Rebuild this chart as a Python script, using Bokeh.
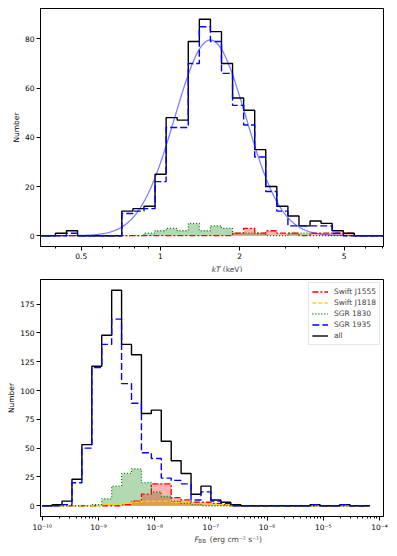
import numpy as np
from bokeh.plotting import figure
from bokeh.models import (Range1d, FixedTicker, CustomJSTickFormatter, Label,
                          Legend, LegendItem)
from bokeh.layouts import column
from bokeh.embed import file_html
from bokeh.resources import INLINE

# ---------------- data: kT histogram (top) ----------------
kt_edges = [0.3286, 0.3619, 0.3989, 0.4394, 0.4842, 0.5334, 0.5877, 0.6475,
            0.7133, 0.7860, 0.8660, 0.9541, 1.0513, 1.1584, 1.2762, 1.4061,
            1.5493, 1.7070, 1.8807, 2.0722, 2.2831, 2.5148, 2.7709, 3.0530,
            3.3636, 3.7062, 4.0832, 4.4989, 4.9568, 5.4613, 6.0170, 6.6295,
            7.3029]
kt_all = [0, 0, 1, 2, 0, 0, 0, 0, 10, 11, 12, 25, 48, 47, 79, 88,
          83, 70, 56, 51, 35, 20, 12, 8, 4, 6, 5, 2, 1, 0, 0, 0]
kt_sgr1935 = [0, 0, 0, 1, 0, 0, 0, 0, 9, 10, 11, 22, 44, 44, 70, 85,
              79, 66, 53, 45, 32, 18, 10, 4, 4, 4, 4, 1, 0, 0, 0, 0]
kt_sgr1830 = [0, 0, 0, 0, 0, 0, 0, 0, 0, 0, 1, 2, 3, 2, 5, 2,
              4, 3, 1, 1, 1, 0, 0, 1, 1, 0, 0, 0, 0, 0, 0, 0]
kt_j1555 = [0, 0, 0, 0, 0, 0, 0, 0, 0, 0, 0, 0, 0, 0, 0, 0,
            0, 0, 1, 3, 1, 2, 1, 1, 0, 1, 1, 1, 1, 0, 0, 0]
# log-normal fit to SGR 1935 kT distribution
fit_amp = 79.6
fit_log_mu = 0.19
fit_log_sigma = 0.135
kt_ticks = [0.5, 1, 2, 5]
kt_minor = [0.4, 0.6, 0.7, 0.8, 0.9, 3, 4, 6, 7]
kt_yticks = [0, 20, 40, 60, 80]

# ---------------- data: F_BB histogram (bottom) ----------------
flux_edge_exp = [-10.0, -9.8235, -9.647, -9.4705, -9.294, -9.1175, -8.941,
                 -8.7645, -8.588, -8.4115, -8.235, -8.0585, -7.882, -7.7055,
                 -7.529, -7.3525, -7.176, -6.9995, -6.823, -6.6465, -6.47,
                 -6.2935, -6.117, -5.9405, -5.764, -5.5875, -5.411, -5.2345,
                 -5.058, -4.8815, -4.705, -4.5285, -4.352, -4.1755]
fl_all = [0, 1, 4, 23, 53, 121, 148, 187, 140, 131, 80, 83, 56, 39, 28, 10,
          17, 5, 3, 1, 0, 0, 0, 0, 0, 0, 0, 1, 0, 0, 1, 0, 0]
fl_sgr1935 = [0, 0, 1, 20, 50, 120, 140, 162, 106, 89, 46, 41, 24, 22, 19, 5,
              12, 4, 2, 0, 0, 0, 0, 0, 0, 0, 0, 1, 0, 0, 1, 0, 0]
fl_sgr1830 = [0, 0, 0, 0, 0, 1, 6, 17, 28, 32, 20, 12, 8, 4, 2, 1,
              0, 0, 0, 0, 0, 0, 0, 0, 0, 0, 0, 0, 0, 0, 0, 0, 0]
fl_j1555 = [0, 0, 0, 0, 0, 0, 0, 0, 1, 4, 10, 19, 19, 7, 5, 3,
            3, 2, 1, 0, 0, 0, 0, 0, 0, 0, 0, 0, 0, 0, 0, 0, 0]
fl_j1818 = [0, 0, 0, 0, 0, 0, 1, 1, 2, 3, 4, 4, 4, 3, 3, 2,
            2, 1, 1, 0, 0, 0, 0, 0, 0, 0, 0, 0, 0, 0, 0, 0, 0]
flux_tick_exp = [-10, -9, -8, -7, -6, -5, -4]
flux_yticks = [0, 25, 50, 75, 100, 125, 150, 175]

FONT = "DejaVu Sans"
FS = "7.5px"
DASH_RED = "6 2 2 2"
DASH_YEL = "4 2"
DASH_GRN = "1 2"
DASH_BLU = "7 3"

KT_LO, KT_HI = 0.35, 7.05
KT_YLO, KT_YHI = -4.4, 92.4
FL_LO, FL_HI = 10 ** -10.03, 10 ** -3.93
FL_YLO, FL_YHI = -9.35, 196.35
W = 390


def step_xy(edges, counts):
    e = np.asarray(edges, dtype=float)
    c = np.asarray(counts, dtype=float)
    xs = np.repeat(e, 2)
    ys = np.concatenate([[0.0], np.repeat(c, 2), [0.0]])
    return xs, ys


def style(p):
    p.outline_line_color = "black"
    p.outline_line_width = 1
    p.outline_line_alpha = 1
    p.xgrid.visible = False
    p.ygrid.visible = False
    p.background_fill_color = "white"
    p.border_fill_color = "white"
    for ax in (p.xaxis[0], p.yaxis[0]):
        ax.axis_line_color = "black"
        ax.major_tick_line_color = "black"
        ax.minor_tick_line_color = "black"
        ax.major_tick_in = 0
        ax.major_tick_out = 4
        ax.minor_tick_in = 0
        ax.minor_tick_out = 2
        ax.major_label_text_font = FONT
        ax.major_label_text_font_size = FS
        ax.major_label_text_color = "black"
        ax.major_label_standoff = 2
        ax.axis_label_text_font = FONT
        ax.axis_label_text_font_size = FS
        ax.axis_label_text_font_style = "normal"
        ax.axis_label_text_color = "black"
    p.yaxis[0].minor_tick_line_color = None
    p.yaxis[0].axis_label = "Number"
    p.yaxis[0].axis_label_standoff = 1


def title_strip(h):
    s = figure(width=W, height=h, x_range=Range1d(0, W), y_range=Range1d(0, h),
               output_backend="svg", toolbar_location=None,
               x_axis_location=None, y_axis_location=None,
               min_border_left=0, min_border_right=0,
               min_border_top=0, min_border_bottom=0)
    s.outline_line_color = None
    s.xgrid.visible = False
    s.ygrid.visible = False
    s.background_fill_color = "white"
    s.border_fill_color = "white"
    return s


# ---------------- top figure ----------------
p1 = figure(width=W, height=262, x_axis_type="log",
            x_range=Range1d(KT_LO, KT_HI), y_range=Range1d(KT_YLO, KT_YHI),
            output_backend="svg", toolbar_location=None,
            min_border_left=40, min_border_right=7,
            min_border_top=8, min_border_bottom=16)
style(p1)
p1.xaxis[0].ticker = FixedTicker(ticks=kt_ticks, minor_ticks=kt_minor)
p1.xaxis[0].formatter = CustomJSTickFormatter(code="return String(tick);")
p1.yaxis[0].ticker = FixedTicker(ticks=kt_yticks)

xs, ys = step_xy(kt_edges, kt_sgr1830)
p1.patch(xs, ys, fill_color="green", fill_alpha=0.3, line_color=None)
xs, ys = step_xy(kt_edges, kt_j1555)
p1.patch(xs, ys, fill_color="red", fill_alpha=0.3, line_color=None)
xs, ys = step_xy(kt_edges, kt_j1555)
p1.line(xs, ys, line_color="red", line_width=1.3, line_dash=DASH_RED)
xs, ys = step_xy(kt_edges, kt_sgr1830)
p1.line(xs, ys, line_color="green", line_width=1.3, line_dash=DASH_GRN)
xs, ys = step_xy(kt_edges, kt_all)
p1.line(xs, ys, line_color="black", line_width=1.4)
xs, ys = step_xy(kt_edges, kt_sgr1935)
p1.line(xs, ys, line_color="blue", line_width=1.4, line_dash=DASH_BLU)

kt_fit_x = np.logspace(np.log10(KT_LO), np.log10(KT_HI), 300)
kt_fit_y = fit_amp * np.exp(-(np.log10(kt_fit_x) - fit_log_mu) ** 2
                            / (2 * fit_log_sigma ** 2))
p1.line(kt_fit_x, kt_fit_y, line_color="blue", line_alpha=0.5, line_width=1.3)

# x-axis title strip for the top panel
s1 = title_strip(10)
s1.add_layout(Label(x=204.8, y=5.5, text="kT", text_font=FONT,
                    text_font_size=FS, text_font_style="italic",
                    text_align="right", text_baseline="middle"))
s1.add_layout(Label(x=207.2, y=5.5, text="(keV)", text_font=FONT,
                    text_font_size=FS, text_align="left",
                    text_baseline="middle"))

# ---------------- bottom figure ----------------
fl_edges = [10.0 ** e for e in flux_edge_exp]
p2 = figure(width=W, height=262, x_axis_type="log",
            x_range=Range1d(FL_LO, FL_HI),
            y_range=Range1d(FL_YLO, FL_YHI),
            output_backend="svg", toolbar_location=None,
            min_border_left=40, min_border_right=7,
            min_border_top=7, min_border_bottom=17)
style(p2)
fl_ticks = [10.0 ** e for e in flux_tick_exp]
fl_minor = [m * 10.0 ** e for e in range(-11, -3) for m in range(2, 10)
            if FL_LO < m * 10.0 ** e < FL_HI]
p2.xaxis[0].ticker = FixedTicker(ticks=fl_ticks, minor_ticks=fl_minor)
p2.xaxis[0].formatter = CustomJSTickFormatter(code="""
const e = Math.round(Math.log10(tick));
const m = {"-": "\u207b", "0": "\u2070", "1": "\u00b9", "2": "\u00b2", "3": "\u00b3",
           "4": "\u2074", "5": "\u2075", "6": "\u2076", "7": "\u2077", "8": "\u2078",
           "9": "\u2079"};
return "10" + String(e).split("").map(c => m[c]).join("");
""")
p2.yaxis[0].ticker = FixedTicker(ticks=flux_yticks)

xs, ys = step_xy(fl_edges, fl_sgr1830)
p2.patch(xs, ys, fill_color="green", fill_alpha=0.3, line_color=None)
xs, ys = step_xy(fl_edges, fl_j1555)
p2.patch(xs, ys, fill_color="red", fill_alpha=0.3, line_color=None)
xs, ys = step_xy(fl_edges, fl_j1818)
p2.patch(xs, ys, fill_color="orange", fill_alpha=0.4, line_color=None)

xs, ys = step_xy(fl_edges, fl_j1555)
r_red = p2.line(xs, ys, line_color="red", line_width=1.3, line_dash=DASH_RED)
xs, ys = step_xy(fl_edges, fl_j1818)
r_yel = p2.line(xs, ys, line_color="gold", line_width=1.3, line_dash=DASH_YEL)
xs, ys = step_xy(fl_edges, fl_sgr1830)
r_grn = p2.line(xs, ys, line_color="green", line_width=1.3, line_dash=DASH_GRN)
xs, ys = step_xy(fl_edges, fl_all)
r_all = p2.line(xs, ys, line_color="black", line_width=1.4)
xs, ys = step_xy(fl_edges, fl_sgr1935)
r_blu = p2.line(xs, ys, line_color="blue", line_width=1.4, line_dash=DASH_BLU)

legend = Legend(items=[
    LegendItem(label="Swift J1555", renderers=[r_red]),
    LegendItem(label="Swift J1818", renderers=[r_yel]),
    LegendItem(label="SGR 1830", renderers=[r_grn]),
    LegendItem(label="SGR 1935", renderers=[r_blu]),
    LegendItem(label="all", renderers=[r_all]),
], location="top_right")
legend.border_line_color = "#cccccc"
legend.border_line_width = 1
legend.background_fill_alpha = 0.8
legend.padding = 3
legend.spacing = 0
legend.margin = 3
legend.glyph_width = 16
legend.glyph_height = 11
legend.label_height = 11
legend.label_standoff = 6
legend.label_text_font = FONT
legend.label_text_font_size = FS
legend.label_text_baseline = "middle"
p2.add_layout(legend)

# x-axis title strip for the bottom panel
s2 = title_strip(12)
s2.add_layout(Label(x=175.0, y=7.5, text="F", text_font=FONT,
                    text_font_size=FS, text_font_style="italic",
                    text_align="left", text_baseline="middle"))
s2.add_layout(Label(x=179.5, y=5.5, text="BB", text_font=FONT,
                    text_font_size="5.5px", text_align="left",
                    text_baseline="middle"))
s2.add_layout(Label(x=192.5, y=7.5,
                    text="(erg cm\u207b\u00b2 s\u207b\u00b9)", text_font=FONT,
                    text_font_size=FS, text_align="left",
                    text_baseline="middle"))

layout = column(p1, s1, p2, s2, spacing=0)
open("out.html", "w").write(file_html(layout, INLINE))
